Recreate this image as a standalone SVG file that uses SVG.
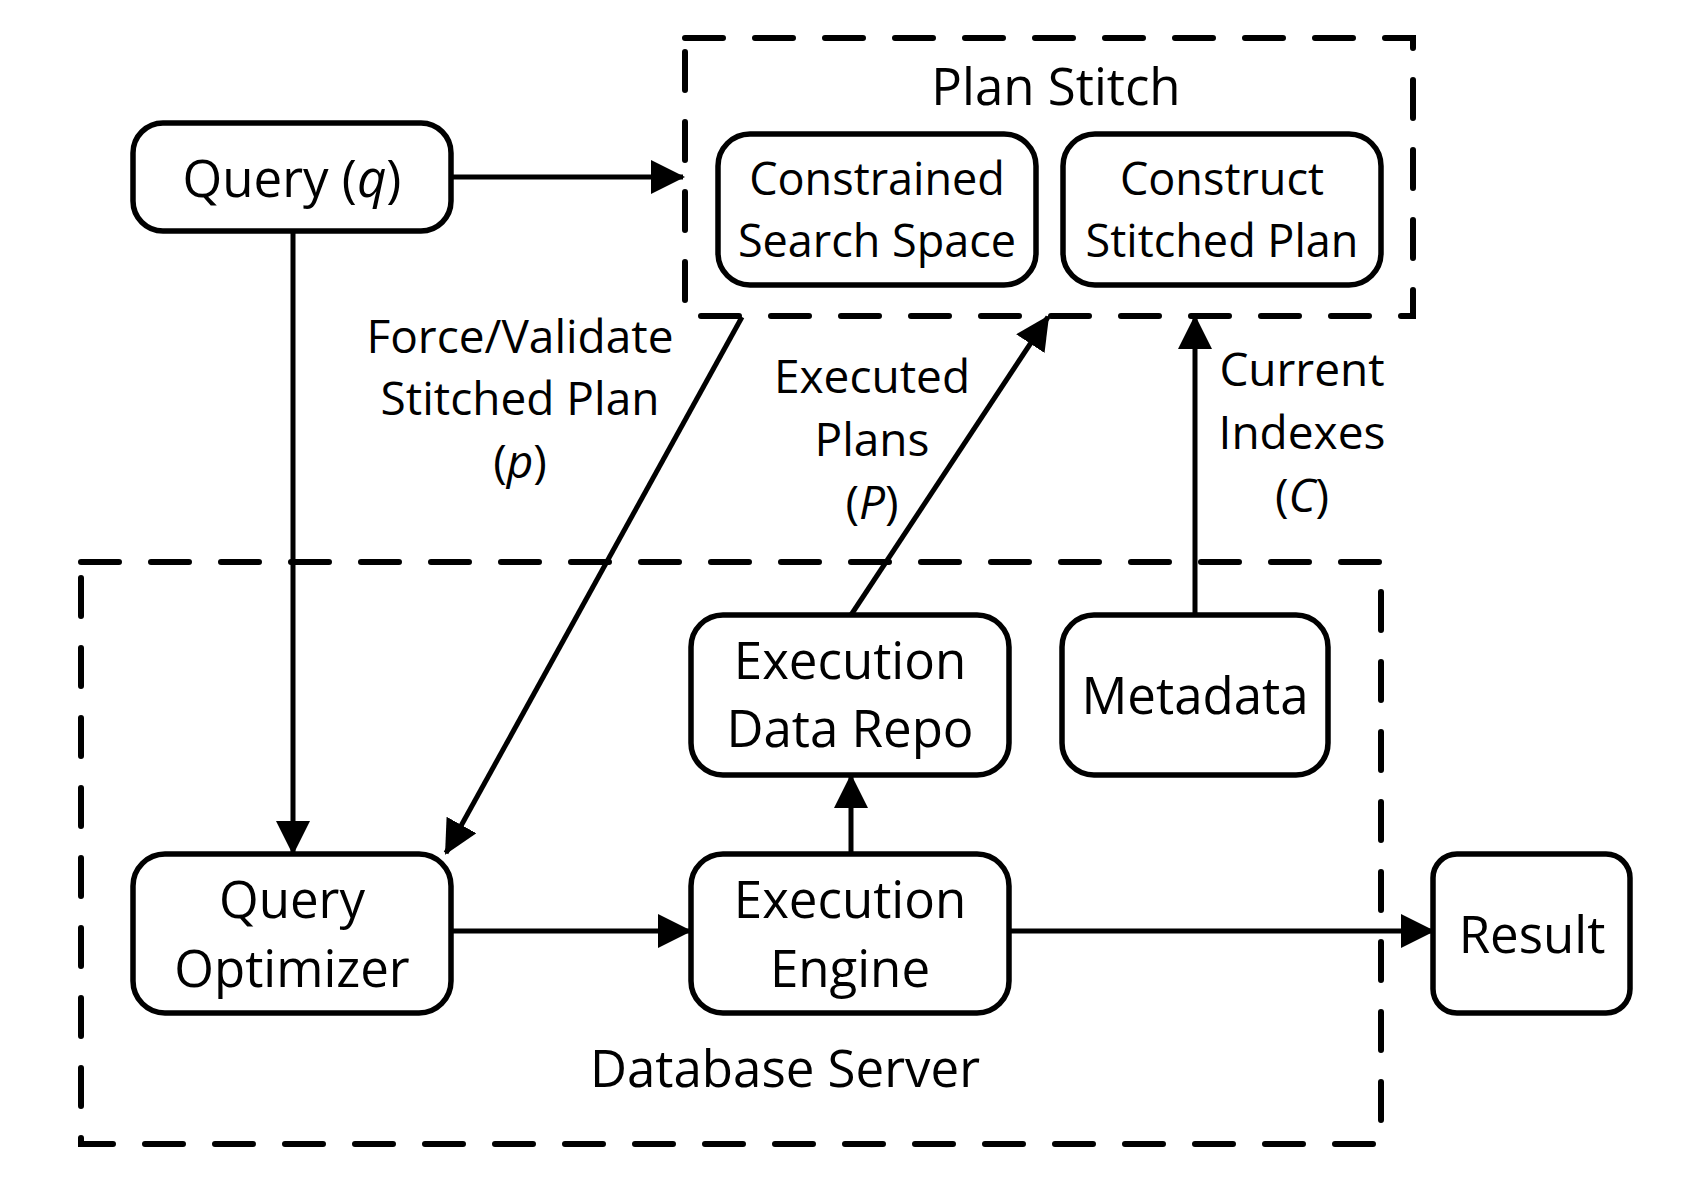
<svg xmlns="http://www.w3.org/2000/svg" width="1704" height="1186" viewBox="0 0 1704 1186">
<style>
.box{fill:#fff;stroke:#000;stroke-width:5.5}
.grp{fill:none;stroke:#000;stroke-width:6;stroke-dasharray:38 32;stroke-linecap:round}
.t{font-family:"Open Sans","Noto Sans",sans-serif;font-size:51px;fill:#000;text-anchor:middle}
.s{font-size:45px}
.l{font-size:46px}
.edge{fill:none;stroke:#000;stroke-width:5}
</style>
<defs>
<marker id="arr" markerUnits="userSpaceOnUse" markerWidth="36" markerHeight="36" refX="32" refY="17" orient="auto">
<path d="M0,0 L34,17 L0,34 Z" fill="#000"/>
</marker>
</defs>
<rect width="1704" height="1186" fill="#fff"/>

<g id="plan-stitch">
<rect class="grp" x="685" y="38" width="728" height="278"/>
<text class="t" x="1056" y="105">Plan Stitch</text>
</g>
<g id="database-server">
<rect class="grp" x="81" y="562" width="1300" height="582"/>
<text class="t" x="785" y="1087">Database Server</text>
</g>

<g id="connectors">
<line class="edge" x1="451" y1="177" x2="683" y2="177" marker-end="url(#arr)"/>
<line class="edge" x1="293" y1="231" x2="293" y2="853" marker-end="url(#arr)"/>
<line class="edge" x1="742" y1="317" x2="446" y2="853" marker-end="url(#arr)"/>
<line class="edge" x1="851" y1="615" x2="1048" y2="317" marker-end="url(#arr)"/>
<line class="edge" x1="1195" y1="615" x2="1195" y2="317" marker-end="url(#arr)"/>
<line class="edge" x1="851" y1="854" x2="851" y2="776" marker-end="url(#arr)"/>
<line class="edge" x1="451" y1="931" x2="690" y2="931" marker-end="url(#arr)"/>
<line class="edge" x1="1009" y1="931" x2="1433" y2="931" marker-end="url(#arr)"/>
<text class="t l" x="520" y="353">Force/Validate</text>
<text class="t l" x="520" y="415">Stitched Plan</text>
<text class="t l" x="520" y="478">(<tspan font-style="italic">p</tspan>)</text>
<text class="t l" x="872" y="393">Executed</text>
<text class="t l" x="872" y="456">Plans</text>
<text class="t l" x="872" y="519">(<tspan font-style="italic">P</tspan>)</text>
<text class="t l" x="1302" y="386">Current</text>
<text class="t l" x="1302" y="449">Indexes</text>
<text class="t l" x="1302" y="512">(<tspan font-style="italic">C</tspan>)</text>
</g>

<g id="query">
<rect class="box" x="133" y="123" width="318" height="108" rx="30"/>
<text class="t" x="292" y="197">Query (<tspan font-style="italic">q</tspan>)</text>
</g>
<g id="constrained-search-space">
<rect class="box" x="718" y="134" width="318" height="151" rx="32"/>
<text class="t s" x="877" y="195">Constrained</text>
<text class="t s" x="877" y="257">Search Space</text>
</g>
<g id="construct-stitched-plan">
<rect class="box" x="1063" y="134" width="318" height="151" rx="32"/>
<text class="t s" x="1222" y="195">Construct</text>
<text class="t s" x="1222" y="257">Stitched Plan</text>
</g>
<g id="execution-data-repo">
<rect class="box" x="691" y="615" width="318" height="160" rx="32"/>
<text class="t" x="850" y="679">Execution</text>
<text class="t" x="850" y="747">Data Repo</text>
</g>
<g id="metadata">
<rect class="box" x="1062" y="615" width="266" height="160" rx="32"/>
<text class="t" x="1195" y="714">Metadata</text>
</g>
<g id="query-optimizer">
<rect class="box" x="133" y="854" width="318" height="159" rx="32"/>
<text class="t" x="292" y="918">Query</text>
<text class="t" x="292" y="987">Optimizer</text>
</g>
<g id="execution-engine">
<rect class="box" x="691" y="854" width="318" height="159" rx="32"/>
<text class="t" x="850" y="918">Execution</text>
<text class="t" x="850" y="987">Engine</text>
</g>
<g id="result">
<rect class="box" x="1433" y="854" width="197" height="159" rx="24"/>
<text class="t" x="1532" y="953">Result</text>
</g>
</svg>
